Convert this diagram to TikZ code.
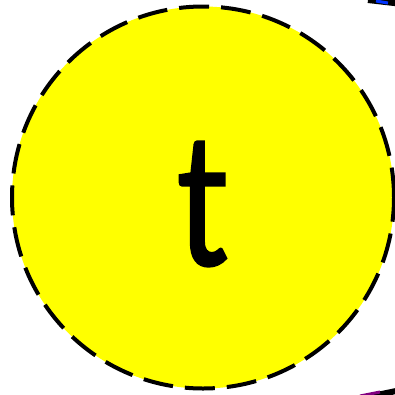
\documentclass[tikz,border=0pt]{standalone}
\usepackage{fontspec}
\setmainfont{Carlito}
\definecolor{pureyellow}{rgb}{1,1,0}
\begin{document}
\begin{tikzpicture}[x=1pt,y=-1pt,
  circ/.style={circle,draw=black,fill=pureyellow,line width=4pt,dash pattern=on 30pt off 12pt,minimum size=382pt,inner sep=0pt},
  lbl/.style={font=\fontsize{196}{196}\selectfont,inner sep=0pt,xscale=0.8}]
\useasboundingbox (0,0) rectangle (395,394);
\begin{scope}
\clip (0,0) rectangle (395,394);
\draw[line width=6pt,black] (368,0) -- (420,6);
\draw[line width=3pt,blue!80!cyan] (376,1) -- (388,3);
\draw[line width=6pt,black] (372,396) -- (420,386);
\draw[line width=3pt,violet] (360,396) -- (380,392);
\node[circ] (t) at (203,197.5) {};
\node[lbl] (tl) at (203,204) {\special{pdf:literal direct 2 Tr 2 w}t\special{pdf:literal direct 0 Tr}};
\end{scope}
\end{tikzpicture}
\end{document}
